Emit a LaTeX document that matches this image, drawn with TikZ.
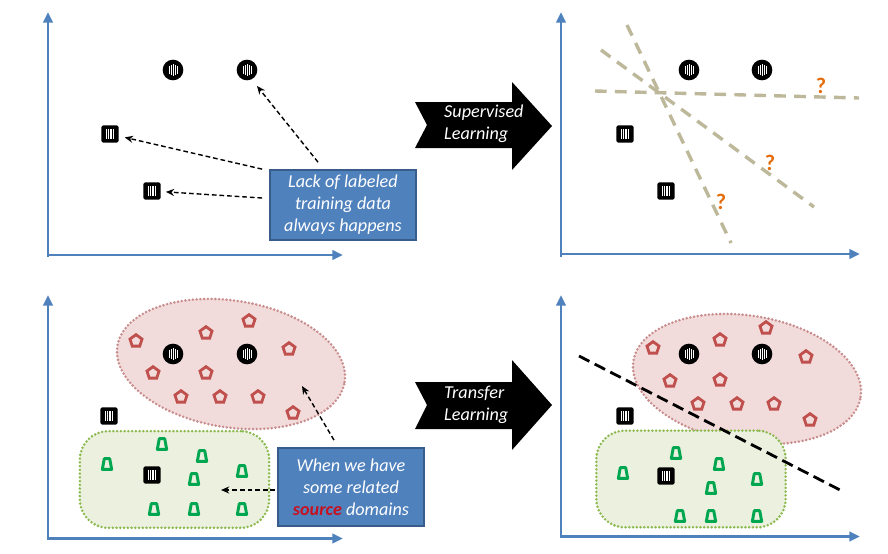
\documentclass[tikz,border=0pt]{standalone}
\usepackage{fontspec}
\setmainfont{Carlito}
\usepackage{xcolor}
\usepackage{tikz}
\usetikzlibrary{arrows.meta,positioning,calc,shapes}

\definecolor{axisblue}{RGB}{79,129,189}
\definecolor{boxedge}{RGB}{56,93,138}
\definecolor{lineTan}{RGB}{190,184,155}
\definecolor{qorange}{RGB}{228,108,10}
\definecolor{srcred}{RGB}{200,16,30}
\definecolor{pentred}{RGB}{192,80,77}
\definecolor{pinkfill}{RGB}{242,220,219}
\definecolor{pinkedge}{RGB}{200,140,140}
\definecolor{greenfill}{RGB}{235,241,222}
\definecolor{greenedge}{RGB}{140,185,80}
\definecolor{trapgreen}{RGB}{0,166,80}

\tikzset{
  axis/.style={axisblue, line width=2.4pt, -{Triangle[length=9pt,width=8pt]}},
  circ/.style={circle, fill=black, minimum size=0.62cm, inner sep=0pt,
    path picture={
      \foreach \dx/\h in {-3.4/3.5,-1.7/4.6,0/5,1.7/4.6,3.4/3.5}
        \draw[white, line width=0.8pt] ([xshift=\dx pt, yshift=-\h pt]path picture bounding box.center) -- ++(0pt,2*\h pt);}},
  sq/.style={rectangle, fill=black, rounded corners=1.5pt, minimum size=0.52cm, inner sep=0pt,
    path picture={
      \foreach \dx in {-3.2,-1.6,0,1.6,3.2}
        \draw[white, line width=0.8pt] ([xshift=\dx pt, yshift=-4pt]path picture bounding box.center) -- ++(0pt,8pt);}},
  pent/.style={regular polygon, regular polygon sides=5, draw=pentred, line width=2.4pt, minimum size=0.38cm, inner sep=0pt},
  trap/.pic={\draw[trapgreen, line width=2.5pt, line join=round] (-4pt,-4.6pt) -- (4pt,-4.6pt) -- (2.3pt,4.6pt) -- (-2.3pt,4.6pt) -- cycle;},
  note/.style={rectangle, fill=axisblue, draw=boxedge, line width=1.5pt, text=white,
    font=\fontsize{15.5}{18.8}\selectfont\itshape, align=center, minimum width=4.38cm, inner sep=0pt},
  dasharr/.style={black, line width=1.2pt, dash pattern=on 4pt off 2.5pt, -{Stealth[length=7pt,width=6pt]}},
  guess/.style={lineTan, line width=2.9pt, dash pattern=on 10pt off 7pt},
  qm/.style={text=qorange, font=\fontsize{19}{19}\selectfont\bfseries, inner sep=0pt},
  srcdom/.style={ellipse, fill=pinkfill, draw=pinkedge, line width=2.4pt, line cap=round, dash pattern=on 0pt off 3.2pt,
    minimum width=6.9cm, minimum height=3.8cm, inner sep=0pt, rotate=-9},
  tgtdom/.style={rectangle, rounded corners=0.85cm, fill=greenfill, draw=greenedge, line width=2.4pt,
    line cap=round, dash pattern=on 0pt off 3.2pt, minimum width=5.68cm, minimum height=2.9cm, inner sep=0pt},
  arrtext/.style={text=white, font=\fontsize{15.5}{18.8}\selectfont\itshape, align=left, anchor=west, inner sep=0pt}
}

\begin{document}
\begin{tikzpicture}[x=0.03cm, y=-0.03cm]
\useasboundingbox (0,0) rectangle (888,553);

% top left: few labels
\draw[axis] (48,256.5) -- (48,12);
\draw[axis] (46.8,255) -- (343,255);
\node[circ] (c1) at (173,70) {};
\node[circ] (c2) at (247,70) {};
\node[sq] (s1) at (110,134) {};
\node[sq] (s2) at (152,191) {};
\node[note, minimum height=2.1cm] (lack) at (343,205) {Lack of labeled\\training data\\always happens};
\draw[dasharr] ($(lack.north)+(-25,-7)$) -- (257,86);
\draw[dasharr, shorten >=0.18cm] ($(lack.north west)+(-7,0)$) -- (s1);
\draw[dasharr, shorten >=0.15cm] ($(lack.west)+(-7,-7)$) -- (s2);

\fill (415,102) -- (512,102) -- (512,82) -- (552,126) -- (512,170) -- (512,148) -- (415,148) -- (427,125) -- cycle;
\node[arrtext] (sup) at (444,124) {Supervised\\Learning};

% top right: guessed boundaries
\draw[axis] (561,256.5) -- (561,12);
\draw[axis] (559.8,254) -- (860,254);
\draw[guess] (627,25) -- (731,243);
\draw[guess] (601,50) -- (814,207);
\draw[guess] (595,91) -- (859,98);
\node[circ] (c3) at (689,70) {};
\node[circ] (c4) at (762,70) {};
\node[sq] (s3) at (625,134) {};
\node[sq] (s4) at (666,191) {};
\node[qm] (q1) at (821,86) {?};
\node[qm] (q2) at (770,163) {?};
\node[qm] (q3) at (721,202) {?};

% bottom left: source and target domains
\draw[axis] (48,540) -- (48,295);
\draw[axis] (46.8,538.5) -- (343,538.5);
\node[srcdom] (pink1) at (231,364) {};
\node[tgtdom] (green1) at (174.5,479.5) {};
\node[circ] (c5) at (173,354) {};
\node[circ] (c6) at (247,354) {};
\foreach \p in {(136,341),(206,333),(249,321),(289,349),(153,373),(206,373),(181,397),(220,397),(258,397),(293,413)}
  \node[pent] at \p {};
\foreach \p in {(162,444),(202,456),(107,464),(242,471),(194,479),(154,509),(194,509),(242,509)}
  \pic at \p {trap};
\node[sq] (s5) at (109,416) {};
\node[sq] (s6) at (152,475) {};
\node[note, minimum height=2.34cm] (rel) at (351,487) {When we have\\some related\\{\color{srcred}\bfseries source} domains};
\coordinate (srcpt) at (302,386);
\coordinate (tgtpt) at (221,490);
\draw[dasharr] ($(rel.north)+(-17,-7)$) -- (srcpt);
\draw[dasharr] ($(rel.west)+(-2,3)$) -- (tgtpt);

\fill (415,382) -- (512,382) -- (512,360) -- (552,405) -- (512,450) -- (512,429) -- (415,429) -- (427,405) -- cycle;
\node[arrtext] (tra) at (444,405) {Transfer\\Learning};

% bottom right: learned boundary
\draw[axis] (561,538) -- (561,295);
\draw[axis] (559.8,536.5) -- (860,536.5);
\node[srcdom] (pink2) at (747,379) {};
\node[tgtdom] (green2) at (691,479) {};
\draw[black, line width=2.4pt, dash pattern=on 10pt off 5pt] (579,356) -- (842,491);
\node[circ] (c7) at (689,354) {};
\node[circ] (c8) at (762,354) {};
\foreach \p in {(653,348),(720,340),(766,328),(806,357),(670,381),(720,380),(698,404),(737,404),(774,404),(810,420)}
  \node[pent] at \p {};
\foreach \p in {(676,453),(719,464),(623,473),(757,479),(711,488),(680,516),(711,516),(757,516)}
  \pic at \p {trap};
\node[sq] (s7) at (625,416) {};
\node[sq] (s8) at (666,476) {};

\end{tikzpicture}
\end{document}
